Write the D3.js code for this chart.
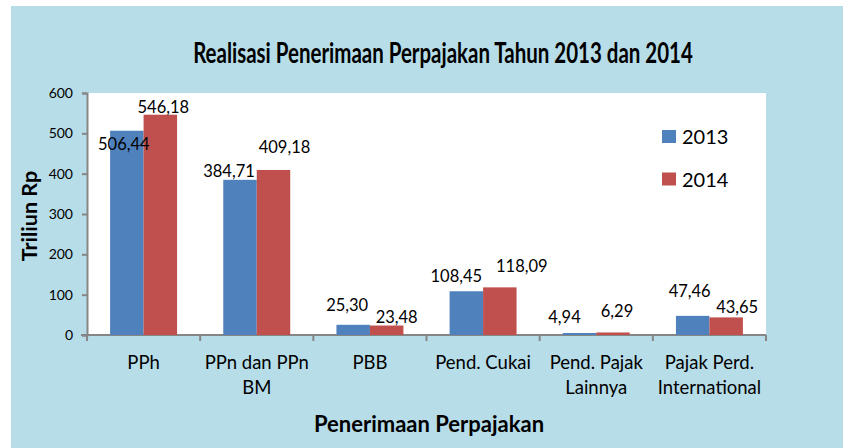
<!DOCTYPE html>
<html>
<head>
<meta charset="utf-8">
<script src="https://cdn.jsdelivr.net/npm/d3@7"></script>
<style>
  body { margin: 0; background: #fff; }
  svg { display: block; }
  text { font-family: Lato, "Open Sans", sans-serif; fill: #000; }
</style>
</head>
<body>
<div id="chart"></div>
<script>
// Data
var categories = ["PPh", "PPn dan PPn BM", "PBB", "Pend. Cukai", "Pend. Pajak Lainnya", "Pajak Perd. International"];
var categoryLines = [["PPh"], ["PPn dan PPn", "BM"], ["PBB"], ["Pend. Cukai"], ["Pend. Pajak", "Lainnya"], ["Pajak Perd.", "International"]];
var series = ["2013", "2014"];
var values2013 = [506.44, 384.71, 25.30, 108.45, 4.94, 47.46];
var values2014 = [546.18, 409.18, 23.48, 118.09, 6.29, 43.65];
var labels2013 = ["506,44", "384,71", "25,30", "108,45", "4,94", "47,46"];
var labels2014 = ["546,18", "409,18", "23,48", "118,09", "6,29", "43,65"];
var yTicks = [0, 100, 200, 300, 400, 500, 600];

// label nudges (labels were moved by hand in the original), [dx, dy] from bar top
var nudge2013 = [[-3, 19], [-11, -3], [-6, -14], [-10, -9], [-15, -10], [-3, -19]];
var nudge2014 = [[3, -2], [11, -17], [10, -3], [22, -15], [4, -15], [11, -4]];

var colors = { "2013": "#4f81bd", "2014": "#c0504d" };

// Svg Dimensions
var svgWidth = 843;
var svgHeight = 448;

var plot = { left: 87, top: 93, right: 766, bottom: 335 };

var svg = d3.select("#chart").append("svg")
    .attr("width", svgWidth)
    .attr("height", svgHeight);

// Background
svg.append("rect")
    .attr("x", 11).attr("y", 6)
    .attr("width", svgWidth - 11).attr("height", svgHeight - 6)
    .attr("fill", "#b7dde8");

svg.append("rect")
    .attr("x", plot.left).attr("y", plot.top)
    .attr("width", plot.right - plot.left).attr("height", plot.bottom - plot.top)
    .attr("fill", "#fff");

// Scales
var x0 = d3.scaleBand()
    .domain(categories)
    .range([plot.left, plot.right])
    .paddingInner(0)
    .paddingOuter(0);

var x1 = d3.scaleBand()
    .domain(series)
    .range([0, x0.bandwidth()])
    .paddingOuter(0.69)
    .paddingInner(0);

var y = d3.scaleLinear()
    .domain([0, 600])
    .range([plot.bottom, plot.top]);

// Y axis
var yAxis = svg.append("g")
    .attr("transform", `translate(${plot.left}, 0)`)
    .call(d3.axisLeft(y).tickValues(yTicks).tickSize(5).tickPadding(9));
yAxis.select(".domain").attr("stroke", "#868686").attr("stroke-width", 2);
yAxis.selectAll(".tick line").attr("stroke", "#868686").attr("stroke-width", 2);
yAxis.selectAll(".tick text")
    .attr("font-family", "Lato, sans-serif")
    .attr("font-size", 14)
    .attr("fill", "#000");

// X axis
var xAxis = svg.append("g")
    .attr("transform", `translate(0, ${plot.bottom})`);
xAxis.append("line")
    .attr("x1", plot.left - 6).attr("x2", plot.right)
    .attr("stroke", "#868686").attr("stroke-width", 2);
var xTickPos = categories.map(c => x0(c)).concat([plot.right]);
xAxis.selectAll(".xtick")
    .data(xTickPos)
    .enter()
    .append("line")
    .attr("x1", d => d).attr("x2", d => d)
    .attr("y1", 0).attr("y2", 6)
    .attr("stroke", "#868686").attr("stroke-width", 2);

// Category labels
var catGroup = svg.append("g");
categories.forEach(function(c, i) {
    var t = catGroup.append("text")
        .attr("x", x0(c) + x0.bandwidth() / 2)
        .attr("y", 369)
        .attr("text-anchor", "middle")
        .attr("font-size", 18.5);
    categoryLines[i].forEach(function(line, j) {
        t.append("tspan")
            .attr("x", x0(c) + x0.bandwidth() / 2)
            .attr("dy", j === 0 ? 0 : 25)
            .text(line);
    });
});

// Bars
var rows = categories.map(function(c, i) {
    return { cat: c, vals: [
        { s: "2013", v: values2013[i], label: labels2013[i], n: nudge2013[i] },
        { s: "2014", v: values2014[i], label: labels2014[i], n: nudge2014[i] }
    ] };
});

var groups = svg.selectAll(".group")
    .data(rows)
    .enter()
    .append("g")
    .attr("transform", d => `translate(${x0(d.cat)}, 0)`);

groups.selectAll("rect")
    .data(d => d.vals)
    .enter()
    .append("rect")
    .attr("x", d => x1(d.s))
    .attr("y", d => y(d.v))
    .attr("width", x1.bandwidth())
    .attr("height", d => y(0) - y(d.v))
    .attr("fill", d => colors[d.s]);

groups.selectAll(".val")
    .data(d => d.vals)
    .enter()
    .append("text")
    .attr("x", d => x1(d.s) + x1.bandwidth() / 2 + d.n[0])
    .attr("y", d => y(d.v) + d.n[1])
    .attr("text-anchor", "middle")
    .attr("font-size", 16.5)
    .text(d => d.label);

// Legend
var legend = svg.append("g");
series.forEach(function(s, i) {
    var ly = 137 + i * 42.5;
    legend.append("rect")
        .attr("x", 662).attr("y", ly - 7)
        .attr("width", 14).attr("height", 13)
        .attr("fill", colors[s]);
    legend.append("text")
        .attr("x", 682).attr("y", ly + 7)
        .attr("font-size", 20)
        .text(s);
});

// Title (condensed look: squeeze horizontally to the original width)
var title = svg.append("text")
    .attr("text-anchor", "middle")
    .attr("font-weight", "bold")
    .attr("font-size", 29)
    .text("Realisasi Penerimaan Perpajakan Tahun 2013 dan 2014");
var titleLen = title.node().getComputedTextLength();
title.attr("transform", `translate(443, 63) scale(${500 / titleLen}, 1)`);

// Axis titles
svg.append("text")
    .attr("transform", "translate(37, 216) rotate(-90)")
    .attr("text-anchor", "middle")
    .attr("font-weight", "bold")
    .attr("font-size", 21.5)
    .text("Triliun Rp");

svg.append("text")
    .attr("x", 429).attr("y", 432)
    .attr("text-anchor", "middle")
    .attr("font-weight", "bold")
    .attr("font-size", 22)
    .text("Penerimaan Perpajakan");
</script>
</body>
</html>
